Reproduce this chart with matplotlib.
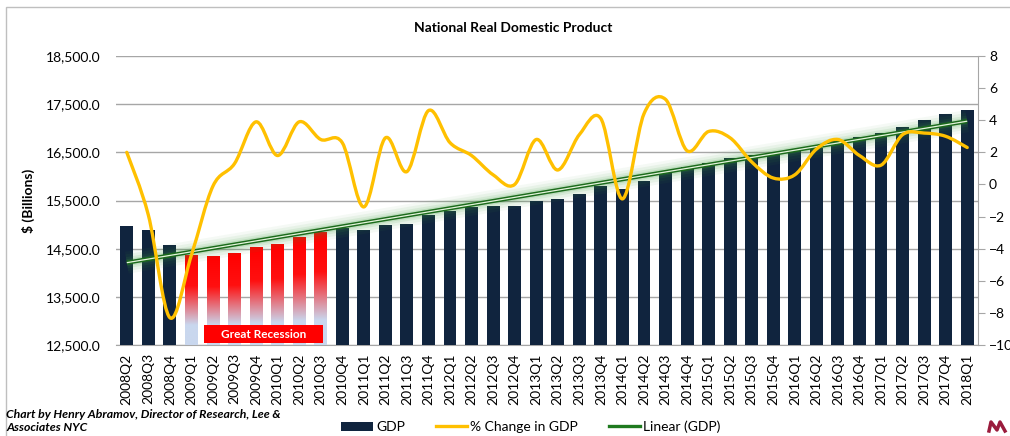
import numpy as np
import matplotlib
matplotlib.use('Agg')
import matplotlib.pyplot as plt
from matplotlib.path import Path
from matplotlib.patches import PathPatch, Rectangle, Patch
from matplotlib.lines import Line2D
from matplotlib.colors import LinearSegmentedColormap

plt.rcParams['font.family'] = ['Lato', 'DejaVu Sans']

# Real GDP, chained dollars ($ billions), quarterly
quarters = ['2008Q2', '2008Q3', '2008Q4', '2009Q1', '2009Q2', '2009Q3', '2009Q4',
            '2010Q1', '2010Q2', '2010Q3', '2010Q4', '2011Q1', '2011Q2', '2011Q3',
            '2011Q4', '2012Q1', '2012Q2', '2012Q3', '2012Q4', '2013Q1', '2013Q2',
            '2013Q3', '2013Q4', '2014Q1', '2014Q2', '2014Q3', '2014Q4', '2015Q1',
            '2015Q2', '2015Q3', '2015Q4', '2016Q1', '2016Q2', '2016Q3', '2016Q4',
            '2017Q1', '2017Q2', '2017Q3', '2017Q4', '2018Q1']
gdp = [14963.4, 14891.6, 14577.0, 14375.0, 14355.6, 14402.5, 14541.9,
       14604.8, 14745.9, 14845.5, 14939.0, 14881.3, 14989.6, 15021.1,
       15190.3, 15291.0, 15362.4, 15380.8, 15384.3, 15491.9, 15521.6,
       15641.3, 15793.9, 15747.0, 15900.8, 16094.5, 16186.7, 16269.0,
       16374.2, 16454.9, 16490.7, 16525.0, 16583.1, 16727.0, 16809.6,
       16903.2, 17031.1, 17163.9, 17286.5, 17371.9]
# annualized % change from preceding quarter
pct_change = [2.0, -1.9, -8.3, -4.4, -0.1, 1.3, 3.9, 1.8, 3.9, 2.8,
              2.6, -1.4, 2.9, 0.8, 4.6, 2.6, 1.8, 0.6, 0.0, 2.8,
              0.9, 3.1, 4.1, -0.9, 4.4, 5.3, 2.1, 3.3, 2.9, 1.4,
              0.4, 0.6, 2.2, 2.8, 1.8, 1.2, 3.1, 3.2, 3.0, 2.3]
recession = ['2009Q1', '2009Q2', '2009Q3', '2009Q4', '2010Q1', '2010Q2', '2010Q3']

NAVY = '#10243e'
GOLD = '#ffc000'
GRID = '#a6a6a6'

x = np.arange(len(quarters))
fig = plt.figure(figsize=(10.10, 4.36), dpi=100)
ax = fig.add_axes([116 / 1010, 1 - 345 / 436, (978 - 116) / 1010, (345 - 56) / 436])

# chart border
fig.patches.append(Rectangle((6 / 1010, -0.05), 1.1, 1 - 7 / 436 + 0.05,
                             transform=fig.transFigure, fill=False,
                             edgecolor='#bfbfbf', linewidth=1.0))

# bars: recession quarters get a red-to-blue gradient
width = 0.6
bar_colors = ['none' if q in recession else NAVY for q in quarters]
bars = ax.bar(x, np.array(gdp) - 12500, bottom=12500, width=width,
              color=bar_colors, edgecolor='none', zorder=3)
grad = LinearSegmentedColormap.from_list(
    'rec', [(0.0, '#c9d7ee'), (0.22, '#c9d7ee'), (0.65, '#ff1010'), (1.0, '#ff0000')])
for b, q in zip(bars, quarters):
    if q in recession:
        x0, w = b.get_x(), b.get_width()
        top = b.get_y() + b.get_height()
        im = ax.imshow(np.linspace(0, 1, 256).reshape(-1, 1), cmap=grad,
                       extent=[x0, x0 + w, 12500, top], origin='lower',
                       aspect='auto', zorder=3)
        im.set_clip_path(b)

ax.set_xlim(-0.5, len(quarters) - 0.5)
ax.set_ylim(12500, 18500)
ax.set_yticks(np.arange(12500, 18501, 1000))
ax.set_yticklabels([f'{v:,.1f}' for v in np.arange(12500, 18501, 1000)], fontsize=10)
ax.set_xticks(x)
ax.set_xticklabels(quarters, rotation=90, fontsize=10)
ax.tick_params(axis='x', length=0, pad=6)
ax.tick_params(axis='y', length=0, pad=11)
ax.grid(axis='y', color=GRID, linewidth=1.0, zorder=0)
ax.set_axisbelow(True)
for s in ['left', 'top', 'right']:
    ax.spines[s].set_visible(False)
ax.spines['bottom'].set_color(GRID)
ax.set_ylabel('$ (Billions)', fontsize=10, fontweight='bold', labelpad=8)

# linear trend of GDP with a soft glow
coef = np.polyfit(x, gdp, 1)
trend = np.polyval(coef, x)
for lw, a in [(16, 0.05), (12, 0.07), (8, 0.1), (5, 0.15)]:
    ax.plot(x, trend, color='#3c9a3c', linewidth=lw, alpha=a,
            solid_capstyle='butt', zorder=4)
ax.plot(x, trend, color='#1b6b1b', linewidth=3.0, solid_capstyle='butt', zorder=5)
ax.plot(x, trend, color='#e4f4dc', linewidth=0.9, solid_capstyle='butt', zorder=6)

# "Great Recession" tag
ax.add_patch(Rectangle((3.6, 12540), 5.5, 375, facecolor='#ff0000',
                       edgecolor='none', zorder=7))
ax.text(6.35, 12727, 'Great Recession', color='white', fontsize=8.5,
        fontweight='bold', ha='center', va='center', zorder=8)

# % change on the right axis, drawn as a smoothed curve
ax2 = ax.twinx()
ax2.set_ylim(-10, 8)
ax2.set_yticks(np.arange(-10, 9, 2))
ax2.tick_params(axis='y', labelsize=10, length=5, color=GRID, pad=3)
for s in ['left', 'top', 'bottom']:
    ax2.spines[s].set_visible(False)
ax2.spines['right'].set_color(GRID)

pts = np.column_stack([x, pct_change]).astype(float)
verts = [tuple(pts[0])]
codes = [Path.MOVETO]
for i in range(len(pts) - 1):
    p0 = pts[i - 1] if i > 0 else pts[i]
    p1, p2 = pts[i], pts[i + 1]
    p3 = pts[i + 2] if i + 2 < len(pts) else pts[i + 1]
    c1 = p1 + (p2 - p0) / 6.0
    c2 = p2 - (p3 - p1) / 6.0
    verts += [tuple(c1), tuple(c2), tuple(p2)]
    codes += [Path.CURVE4] * 3
ax2.add_patch(PathPatch(Path(verts, codes), facecolor='none', edgecolor=GOLD,
                        linewidth=2.4, capstyle='round', joinstyle='round', zorder=6))

fig.text(513 / 1010, 1 - 28 / 436, 'National Real Domestic Product',
         fontsize=10, fontweight='bold', ha='center', va='center')

handles = [Patch(facecolor=NAVY, edgecolor='none'),
           Line2D([], [], color=GOLD, linewidth=2.4),
           Line2D([], [], color='#1f7a1f', linewidth=2.4)]
fig.legend(handles, ['GDP', '% Change in GDP', 'Linear (GDP)'],
           loc='center', bbox_to_anchor=(531 / 1010, 1 - 427 / 436), ncol=3,
           frameon=False, fontsize=10, handlelength=2.3, handletextpad=0.2,
           columnspacing=2.2)

fig.text(6 / 1010, 1 - 409 / 436,
         'Chart by Henry Abramov, Director of Research, Lee &\nAssociates NYC',
         fontsize=8.8, fontweight='bold', style='italic', ha='left', va='top',
         linespacing=1.2)

# small corner logo mark
fig.add_artist(Line2D([989 / 1010, 991 / 1010, 997 / 1010, 1000 / 1010, 1005 / 1010],
                      [1 - 431 / 436, 1 - 422 / 436, 1 - 430 / 436, 1 - 422 / 436, 1 - 431 / 436],
                      transform=fig.transFigure, color='#9a1b3c', linewidth=2.5))

fig.savefig('out.png', dpi=100)
